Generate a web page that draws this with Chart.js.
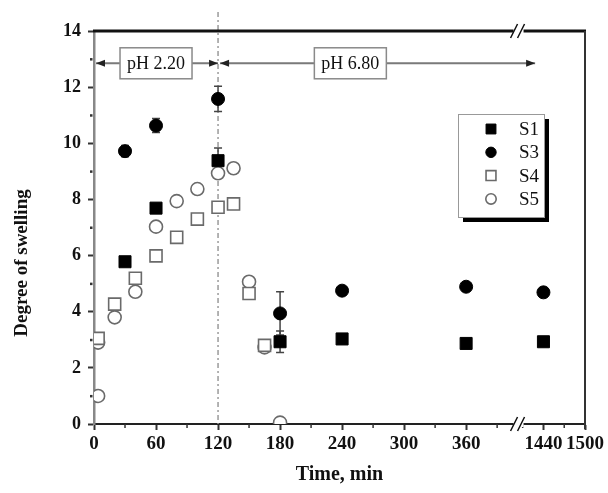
<!DOCTYPE html>
<html>
<head>
<meta charset="utf-8">
<script src="https://cdn.jsdelivr.net/npm/chart.js@4.4.1/dist/chart.umd.min.js"></script>
<style>
  html, body { margin: 0; padding: 0; background: #fff; }
</style>
</head>
<body>
<canvas id="swellChart" width="608" height="493"></canvas>
<script>
// time axis is broken between ~400 and ~1400 min
const xTickValues = [0, 60, 120, 180, 240, 300, 360, 1440, 1500];
const xTickLabels = ["0", "60", "120", "180", "240", "300", "360", "1440", "1500"];
const xMinorTicks = [30, 90, 150, 210, 270, 330, 390, 1410, 1470];
const yMinorTicks = [1, 3, 5, 7, 9, 11, 13];

const s1Time = [30, 60, 120, 180, 240, 360, 1440];
const s1Value = [5.78, 7.69, 9.38, 2.93, 3.03, 2.87, 2.93];
const s1Err = [0, 0, 0.45, 0.38, 0, 0, 0];

const s3Time = [30, 60, 120, 180, 240, 360, 1440];
const s3Value = [9.72, 10.63, 11.58, 3.94, 4.75, 4.89, 4.69];
const s3Err = [0.2, 0.25, 0.45, 0.77, 0, 0, 0.15];

const s4Time = [4, 20, 40, 60, 80, 100, 120, 135, 150, 165];
const s4Value = [3.05, 4.27, 5.19, 5.99, 6.65, 7.3, 7.72, 7.84, 4.65, 2.8];

const s5Time = [4, 4, 20, 40, 60, 80, 100, 120, 135, 150, 165, 180];
const s5Value = [2.9, 1.0, 3.8, 4.71, 7.03, 7.94, 8.37, 8.93, 9.11, 5.07, 2.73, 0.05];

const phLabels = ["pH 2.20", "pH 6.80"];
const phStart = [0, 120];
const phEnd = [120, 1428];
const phLabelTime = [60, 248];
const phLevel = 12.85;

const SERIF = '"Liberation Serif", "DejaVu Serif", serif';

function toAxis(t) {
  return t <= 400 ? t : 475 - (1500 - t) * 0.67;
}

function pts(times, values) {
  return times.map((t, i) => ({ x: toAxis(t), y: values[i] }));
}

function arrowHead(ctx, x, y, dir) {
  ctx.beginPath();
  ctx.moveTo(x, y);
  ctx.lineTo(x - dir * 9, y - 3.5);
  ctx.lineTo(x - dir * 9, y + 3.5);
  ctx.closePath();
  ctx.fill();
}

function breakMark(ctx, cx, cy) {
  ctx.fillStyle = "#fff";
  ctx.fillRect(cx - 5, cy - 3, 10, 6);
  ctx.strokeStyle = "#111";
  ctx.lineWidth = 1.5;
  ctx.beginPath();
  ctx.moveTo(cx - 8, cy + 7); ctx.lineTo(cx - 1, cy - 7);
  ctx.moveTo(cx - 1, cy + 7); ctx.lineTo(cx + 6, cy - 7);
  ctx.stroke();
}

const decor = {
  id: "decor",
  beforeDatasetsDraw(chart) {
    const { ctx, chartArea: a, scales: { x, y } } = chart;
    ctx.save();
    // pH switch line
    const px = x.getPixelForValue(toAxis(120));
    ctx.strokeStyle = "#9a9a9a";
    ctx.lineWidth = 1.5;
    ctx.setLineDash([5, 3, 2, 3]);
    ctx.beginPath();
    ctx.moveTo(px, 12);
    ctx.lineTo(px, a.bottom);
    ctx.stroke();
    ctx.setLineDash([]);

    // error bars
    chart.data.datasets.forEach((ds) => {
      if (!ds.err) return;
      ctx.strokeStyle = "#444";
      ctx.lineWidth = 1.5;
      ds.data.forEach((p, i) => {
        const e = ds.err[i];
        if (!e) return;
        const cx = x.getPixelForValue(p.x);
        const top = y.getPixelForValue(p.y + e);
        const bot = y.getPixelForValue(p.y - e);
        ctx.beginPath();
        ctx.moveTo(cx, top); ctx.lineTo(cx, bot);
        ctx.moveTo(cx - 4, top); ctx.lineTo(cx + 4, top);
        ctx.moveTo(cx - 4, bot); ctx.lineTo(cx + 4, bot);
        ctx.stroke();
      });
    });
    ctx.restore();
  },
  afterDraw(chart) {
    const { ctx, chartArea: a, scales: { x, y } } = chart;
    ctx.save();

    // frame: heavy top line and thin right line
    ctx.strokeStyle = "#111";
    ctx.lineWidth = 3;
    ctx.beginPath();
    ctx.moveTo(a.left - 1, a.top);
    ctx.lineTo(a.right + 1, a.top);
    ctx.stroke();
    ctx.lineWidth = 2;
    ctx.strokeStyle = "#333";
    ctx.beginPath();
    ctx.moveTo(a.right, a.top);
    ctx.lineTo(a.right, a.bottom + 5);
    ctx.stroke();

    // minor ticks
    ctx.strokeStyle = "#333";
    ctx.lineWidth = 1.5;
    xMinorTicks.forEach((t) => {
      const px = x.getPixelForValue(toAxis(t));
      ctx.beginPath();
      ctx.moveTo(px, a.bottom);
      ctx.lineTo(px, a.bottom + 4);
      ctx.stroke();
    });
    ctx.fillStyle = "#333";
    yMinorTicks.forEach((v) => {
      const py = y.getPixelForValue(v);
      ctx.fillRect(a.left - 4, py - 1, 2.5, 2.5);
    });

    // axis breaks
    const bx = x.getPixelForValue(402);
    breakMark(ctx, bx + 9, a.bottom);
    breakMark(ctx, bx + 9, a.top);

    // y title, sits a bit below the middle as in the original
    ctx.save();
    ctx.translate(22, 263);
    ctx.rotate(-Math.PI / 2);
    ctx.font = "bold 19px " + SERIF;
    ctx.textAlign = "center";
    ctx.textBaseline = "middle";
    ctx.fillStyle = "#111";
    ctx.fillText("Degree of swelling", 0, 0);
    ctx.restore();

    // pH arrows
    const ly = y.getPixelForValue(phLevel);
    ctx.font = "18px " + SERIF;
    ctx.textBaseline = "middle";
    ctx.textAlign = "center";
    phLabels.forEach((lab, i) => {
      const x0 = x.getPixelForValue(toAxis(phStart[i])) + 2;
      const x1 = x.getPixelForValue(toAxis(phEnd[i]));
      const cx = x.getPixelForValue(toAxis(phLabelTime[i]));
      const w = ctx.measureText(lab).width + 14;
      const h = 31;
      ctx.strokeStyle = "#7a7a7a";
      ctx.lineWidth = 2;
      ctx.beginPath();
      ctx.moveTo(x0, ly); ctx.lineTo(cx - w / 2, ly);
      ctx.moveTo(cx + w / 2, ly); ctx.lineTo(x1, ly);
      ctx.stroke();
      ctx.fillStyle = "#222";
      arrowHead(ctx, x0, ly, -1);
      arrowHead(ctx, x1, ly, 1);
      ctx.fillStyle = "#fff";
      ctx.fillRect(cx - w / 2, ly - h / 2, w, h);
      ctx.strokeStyle = "#8a8a8a";
      ctx.lineWidth = 1.5;
      ctx.strokeRect(cx - w / 2, ly - h / 2, w, h);
      ctx.fillStyle = "#111";
      ctx.fillText(lab, cx, ly + 1);
    });

    // legend with drop shadow
    const lx = 458, ly0 = 114, lw = 86, lh = 103;
    ctx.fillStyle = "#000";
    ctx.fillRect(lx + 5, ly0 + 5, lw, lh);
    ctx.fillStyle = "#fff";
    ctx.fillRect(lx, ly0, lw, lh);
    ctx.strokeStyle = "#999";
    ctx.lineWidth = 1;
    ctx.strokeRect(lx + 0.5, ly0 + 0.5, lw, lh);
    ctx.font = "19px " + SERIF;
    ctx.textAlign = "left";
    chart.data.datasets.forEach((ds, i) => {
      const ry = ly0 + 15 + i * 23.3;
      ctx.fillStyle = ds.backgroundColor;
      ctx.strokeStyle = ds.borderColor;
      ctx.lineWidth = ds.pointBorderWidth;
      Chart.helpers.drawPoint(ctx, {
        pointStyle: ds.pointStyle,
        radius: ds.pointStyle === "rect" ? 7 : 5.2,
        borderWidth: ds.pointBorderWidth,
        rotation: 0
      }, 491, ry);
      ctx.fillStyle = "#111";
      ctx.fillText(ds.label, 519, ry + 1);
    });
    ctx.restore();
  }
};

const ctx = document.getElementById("swellChart").getContext("2d");
const chart = new Chart(ctx, {
  type: "scatter",
  data: {
    datasets: [
      {
        label: "S1",
        data: pts(s1Time, s1Value),
        err: s1Err,
        pointStyle: "rect",
        pointRadius: 8.5,
        backgroundColor: "#000",
        borderColor: "#000",
        pointBorderWidth: 1,
        clip: 0
      },
      {
        label: "S3",
        data: pts(s3Time, s3Value),
        err: s3Err,
        pointStyle: "circle",
        pointRadius: 6.5,
        backgroundColor: "#000",
        borderColor: "#000",
        pointBorderWidth: 1,
        clip: 0
      },
      {
        label: "S4",
        data: pts(s4Time, s4Value),
        pointStyle: "rect",
        pointRadius: 8.5,
        backgroundColor: "#fff",
        borderColor: "#6a6a6a",
        pointBorderWidth: 1.6,
        clip: 0
      },
      {
        label: "S5",
        data: pts(s5Time, s5Value),
        pointStyle: "circle",
        pointRadius: 6.5,
        backgroundColor: "#fff",
        borderColor: "#6a6a6a",
        pointBorderWidth: 1.6,
        clip: 0
      }
    ]
  },
  options: {
    responsive: false,
    animation: false,
    devicePixelRatio: 1,
    layout: { padding: { top: 31, right: 23, left: 0, bottom: 0 } },
    plugins: {
      legend: { display: false },
      tooltip: { enabled: false }
    },
    scales: {
      x: {
        type: "linear",
        min: 0,
        max: 475,
        afterFit: (s) => { s.height = 69; },
        afterBuildTicks: (s) => {
          s.ticks = xTickValues.map((t) => ({ value: toAxis(t) }));
        },
        border: { color: "#222", width: 2 },
        grid: { drawOnChartArea: false, tickLength: 6, tickColor: "#333", tickWidth: 2 },
        ticks: {
          autoSkip: false,
          maxRotation: 0,
          padding: 3,
          color: "#111",
          font: { family: SERIF, size: 19, weight: "bold" },
          callback: (v, i) => xTickLabels[i]
        },
        title: {
          display: true,
          text: "Time, min",
          color: "#111",
          padding: { top: 0, bottom: 6 },
          font: { family: SERIF, size: 20, weight: "bold" }
        }
      },
      y: {
        min: 0,
        max: 14,
        afterFit: (s) => { s.width = 94; },
        border: { color: "#888", width: 2.5 },
        grid: { drawOnChartArea: false, tickLength: 6, tickColor: "#333", tickWidth: 2 },
        ticks: {
          stepSize: 2,
          padding: 7,
          color: "#111",
          font: { family: SERIF, size: 18, weight: "bold" }
        }
      }
    }
  },
  plugins: [decor]
});
</script>
</body>
</html>
